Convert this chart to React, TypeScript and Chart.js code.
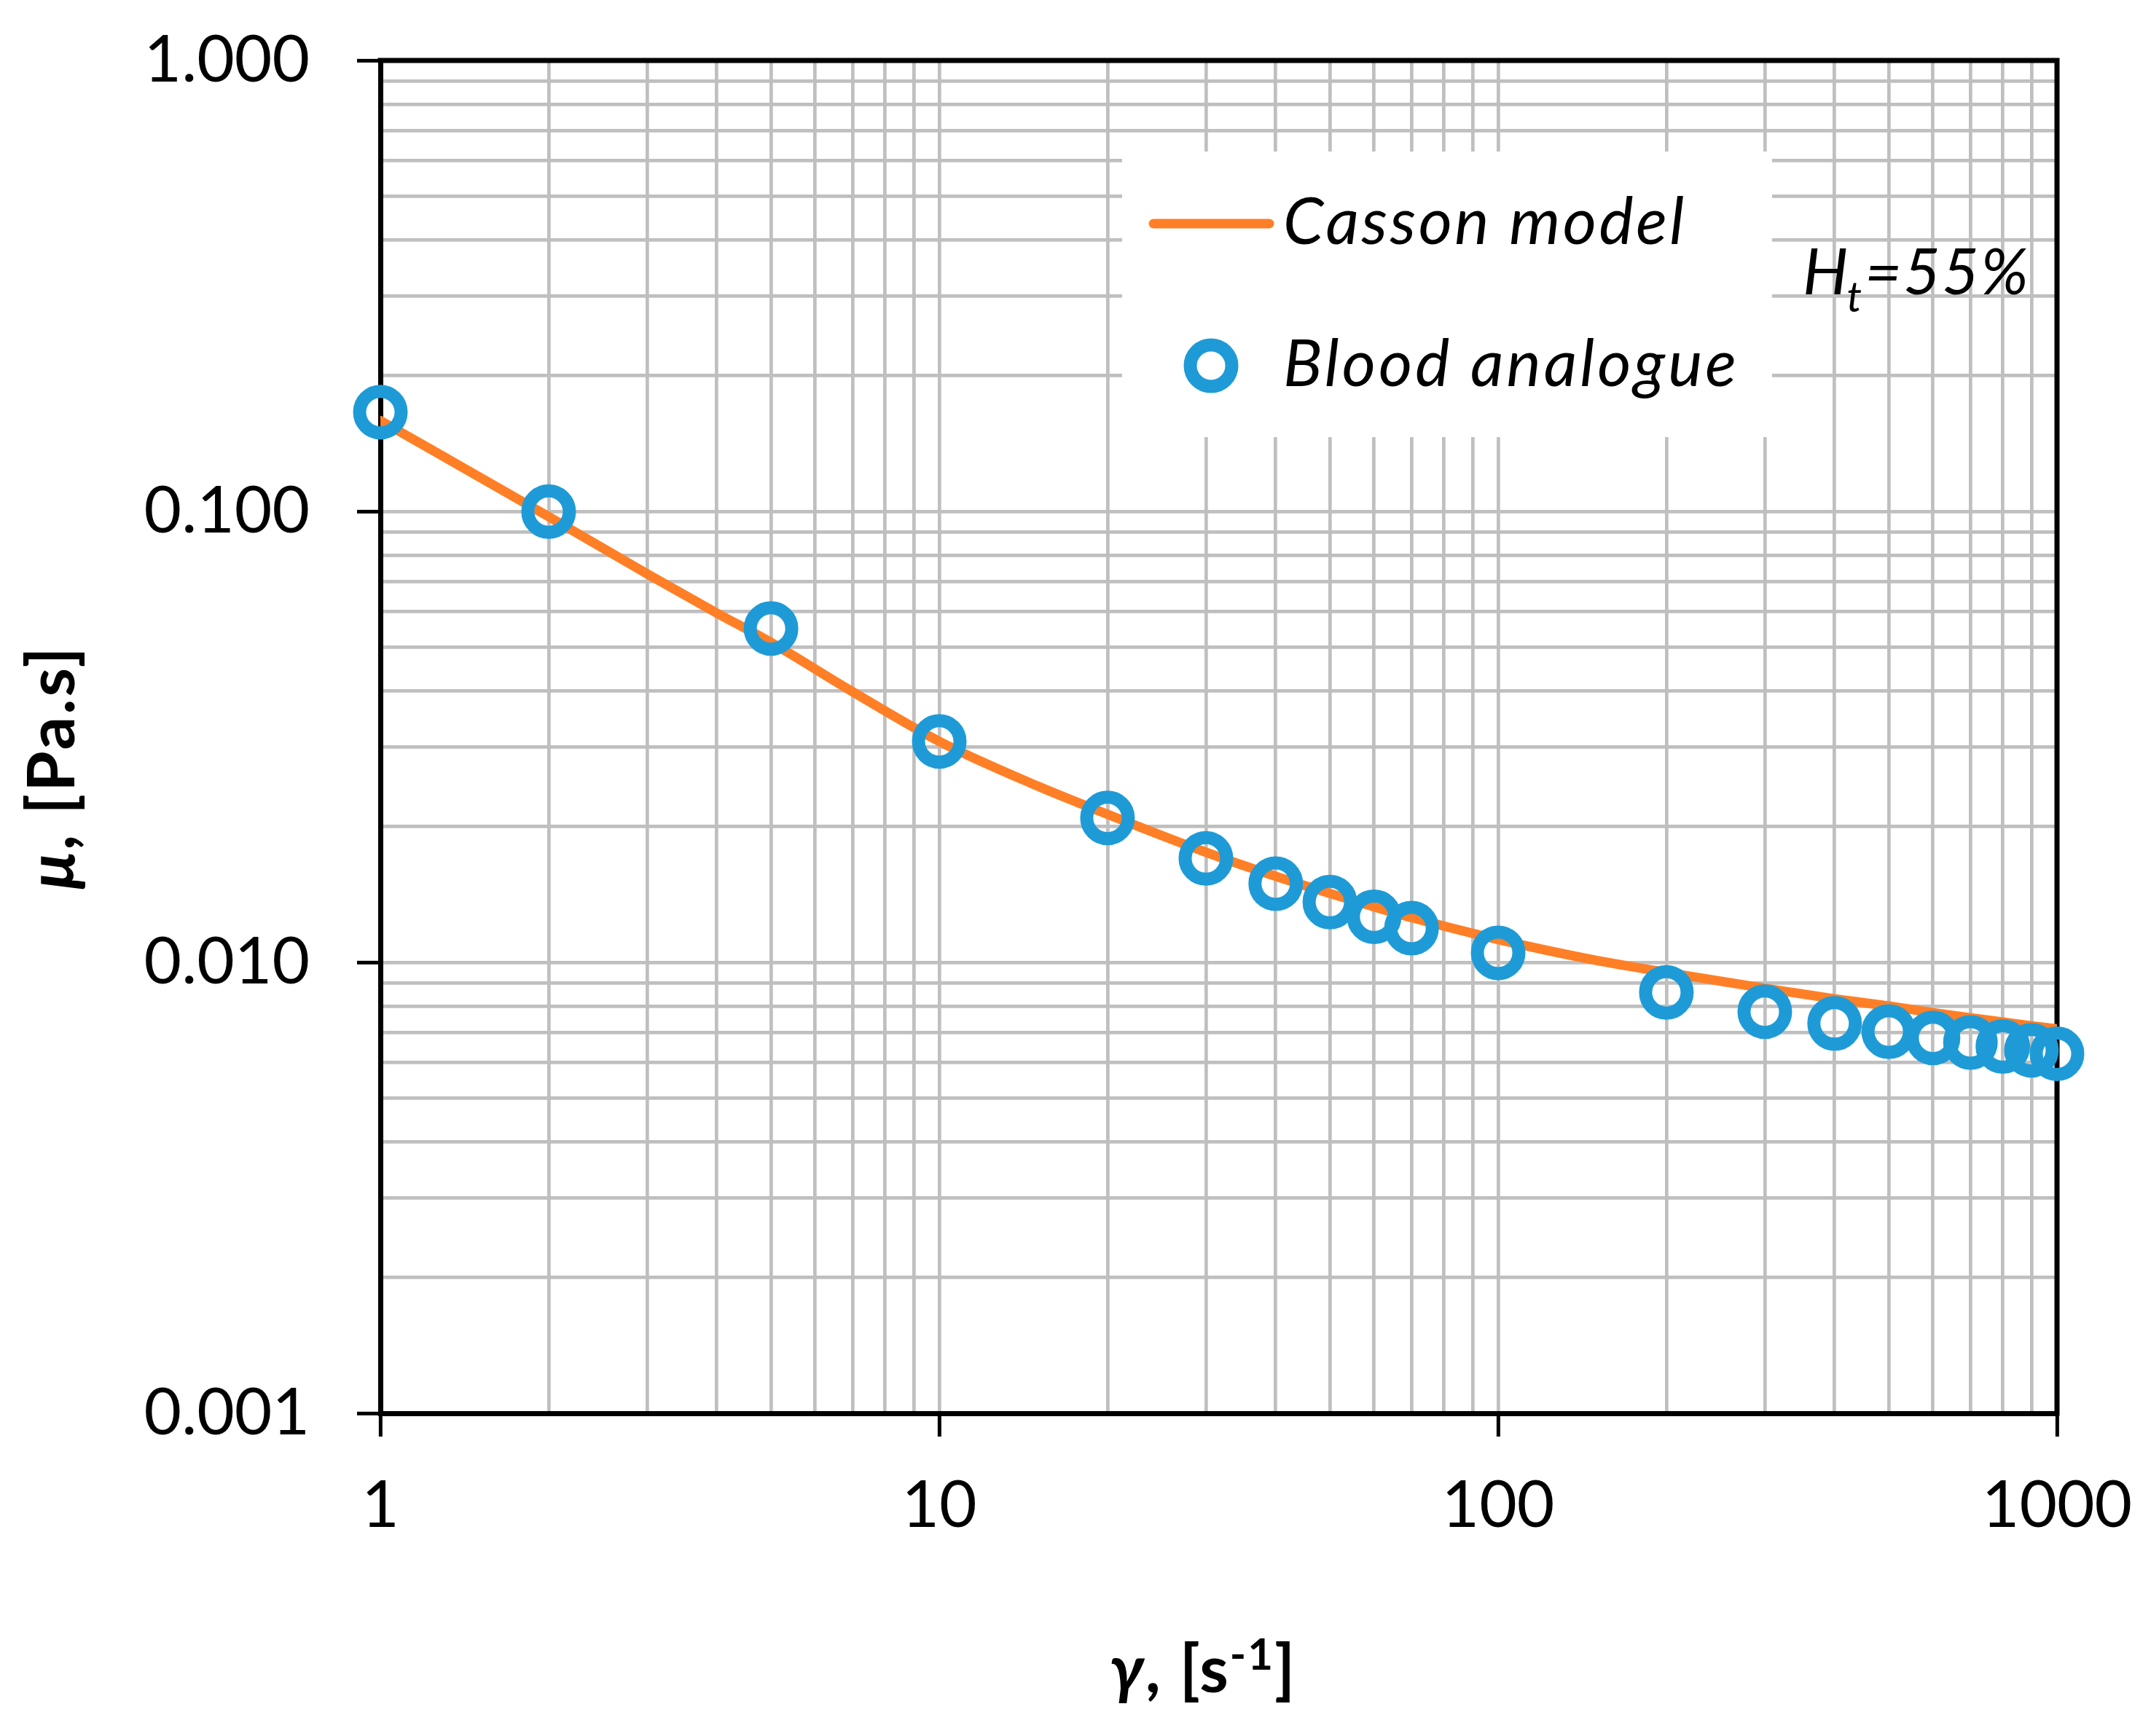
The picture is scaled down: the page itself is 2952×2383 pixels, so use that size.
import React, { useEffect, useRef } from "react";
import { Chart, registerables } from "chart.js";

Chart.register(...registerables);

// Blood analogue measurements (shear rate [1/s], viscosity [Pa.s])
const shearRates = [1, 2, 5, 10, 20, 30, 40, 50, 60, 70, 100, 200, 300, 400, 500, 600, 700, 800, 900, 1000];
const viscosities = [
  0.166, 0.0999, 0.055, 0.0309, 0.0209, 0.017, 0.01494, 0.0136, 0.01262, 0.01191,
  0.0105, 0.00858, 0.00777, 0.00732, 0.00702, 0.0068, 0.00664, 0.00651, 0.00638, 0.00627,
];

// Casson model curve
const cassonShearRates = [1, 2, 3, 4, 5, 7, 10, 15, 20, 30, 40, 50, 60, 70, 100, 150, 200, 300, 400, 500, 600, 700, 800, 900, 1000];
const cassonViscosities = [
  0.159, 0.0974, 0.0727, 0.0595, 0.0512, 0.0398, 0.0309, 0.0246, 0.0213, 0.01755, 0.01552, 0.01422,
  0.01328, 0.01257, 0.01124, 0.0101, 0.0095, 0.00876, 0.0083, 0.008, 0.00773, 0.00753, 0.00737, 0.00723, 0.00712,
];

const xTickValues = [1, 10, 100, 1000];
const xTickLabels = ["1", "10", "100", "1000"];
const yTickValues = [0.001, 0.01, 0.1, 1];
const yTickLabels = ["0.001", "0.010", "0.100", "1.000"];
const seriesNames = ["Casson model", "Blood analogue"];
const xTitle = ["γ", ", [s", "-1", "]"];
const yTitle = ["μ", ", [Pa.s]"];
const noteText = ["H", "t", "=55%"];

const W = 2952;
const H = 2383;
const AREA = { left: 522, top: 83, right: 2823, bottom: 1940 };
const FONT = 'Lato, "Open Sans", sans-serif';
const ORANGE = "#ff7f27";
const BLUE = "#1e9bd7";
const GRID = "#bfbfbf";

// gridlines at 1..9 x every decade
const decadeGrid = (majors: number[]) => {
  const out: number[] = [];
  majors.forEach((m, i) => {
    if (i === majors.length - 1) {
      out.push(m);
      return;
    }
    for (let k = 1; k < 10; k++) out.push(k === 1 ? m : parseFloat((m * k).toPrecision(6)));
  });
  return out;
};

const xGrid = decadeGrid(xTickValues);
const yGrid = decadeGrid(yTickValues);

type Run = { text: string; font: string; dy?: number };

const drawRuns = (ctx: CanvasRenderingContext2D, runs: Run[], cx: number, y: number) => {
  let total = 0;
  runs.forEach((r) => {
    ctx.font = r.font;
    total += ctx.measureText(r.text).width;
  });
  let x = cx - total / 2;
  runs.forEach((r) => {
    ctx.font = r.font;
    ctx.fillText(r.text, x, y + (r.dy || 0));
    x += ctx.measureText(r.text).width;
  });
};

const overlayPlugin = {
  id: "overlay",
  beforeDatasetsDraw(chart: any) {
    const { ctx, chartArea: a } = chart;
    ctx.save();
    // top and right frame
    ctx.strokeStyle = "#000";
    ctx.lineWidth = 7;
    ctx.beginPath();
    ctx.moveTo(a.left - 3.5, a.top);
    ctx.lineTo(a.right, a.top);
    ctx.lineTo(a.right, a.bottom + 3.5);
    ctx.stroke();

    // legend
    ctx.fillStyle = "#fff";
    ctx.fillRect(1540, 208, 892, 392);
    ctx.strokeStyle = ORANGE;
    ctx.lineWidth = 13;
    ctx.lineCap = "round";
    ctx.beginPath();
    ctx.moveTo(1583, 307);
    ctx.lineTo(1742, 307);
    ctx.stroke();
    ctx.strokeStyle = BLUE;
    ctx.lineWidth = 18;
    ctx.beginPath();
    ctx.arc(1662, 502, 28.5, 0, Math.PI * 2);
    ctx.stroke();
    ctx.fillStyle = "#000";
    ctx.textBaseline = "alphabetic";
    ctx.textAlign = "left";
    ctx.font = `italic 89px ${FONT}`;
    ctx.letterSpacing = "3.5px";
    ctx.fillText(seriesNames[0], 1761, 335);
    ctx.letterSpacing = "4px";
    ctx.fillText(seriesNames[1], 1761, 530);

    // H_t = 55% note
    ctx.letterSpacing = "2px";
    let x = 2474;
    ctx.font = `italic 88px ${FONT}`;
    ctx.fillText(noteText[0], x, 404);
    x += ctx.measureText(noteText[0]).width - 4;
    ctx.font = `italic 58px ${FONT}`;
    ctx.fillText(noteText[1], x, 428);
    x += ctx.measureText(noteText[1]).width + 2;
    ctx.font = `italic 88px ${FONT}`;
    ctx.fillText(noteText[2], x, 404);
    ctx.restore();
  },
  afterDraw(chart: any) {
    const { ctx } = chart;
    ctx.save();
    ctx.fillStyle = "#000";
    ctx.textBaseline = "alphabetic";
    ctx.textAlign = "left";
    ctx.letterSpacing = "2px";
    const b = `bold 90px ${FONT}`;
    const bi = `italic bold 90px ${FONT}`;
    drawRuns(
      ctx,
      [
        { text: xTitle[0], font: bi },
        { text: xTitle[1], font: b },
        { text: xTitle[2], font: `bold 60px ${FONT}`, dy: -31 },
        { text: xTitle[3], font: b },
      ],
      1651,
      2323
    );
    ctx.letterSpacing = "3px";
    ctx.translate(102, 1053);
    ctx.rotate(-Math.PI / 2);
    drawRuns(
      ctx,
      [
        { text: yTitle[0], font: bi },
        { text: yTitle[1], font: b },
      ],
      0,
      0
    );
    ctx.restore();
  },
};

const App: React.FC = () => {
  const canvasRef = useRef<HTMLCanvasElement | null>(null);
  const chartRef = useRef<Chart | null>(null);

  useEffect(() => {
    document.body.style.margin = "0";
    document.body.style.overflow = "hidden";
    if (chartRef.current) chartRef.current.destroy();
    if (!canvasRef.current) return;

    const tickFont = { family: FONT, size: 89 };

    chartRef.current = new Chart(canvasRef.current, {
      type: "scatter",
      data: {
        datasets: [
          {
            label: seriesNames[1],
            data: shearRates.map((x, i) => ({ x, y: viscosities[i] })),
            showLine: false,
            pointStyle: "circle",
            pointRadius: 28.5,
            pointBorderWidth: 18,
            pointBorderColor: BLUE,
            pointBackgroundColor: "rgba(0,0,0,0)",
            borderColor: BLUE,
            backgroundColor: "rgba(0,0,0,0)",
            clip: false,
            order: 1,
          },
          {
            label: seriesNames[0],
            data: cassonShearRates.map((x, i) => ({ x, y: cassonViscosities[i] })),
            showLine: true,
            pointRadius: 0,
            borderColor: ORANGE,
            borderWidth: 13,
            borderCapStyle: "round",
            cubicInterpolationMode: "monotone",
            order: 2,
          },
        ],
      },
      options: {
        animation: false,
        responsive: true,
        maintainAspectRatio: false,
        events: [],
        layout: { padding: { top: AREA.top, right: W - AREA.right, left: 0, bottom: 0 } },
        plugins: {
          legend: { display: false },
          tooltip: { enabled: false },
        },
        scales: {
          x: {
            type: "logarithmic",
            min: 1,
            max: 1000,
            afterBuildTicks: (scale: any) => {
              scale.ticks = xGrid.map((v) => ({ value: v }));
            },
            afterFit: (scale: any) => {
              scale.height = H - AREA.bottom;
              scale.paddingLeft = 0;
              scale.paddingRight = 0;
            },
            ticks: {
              autoSkip: false,
              maxRotation: 0,
              minRotation: 0,
              padding: 42,
              color: "#000",
              font: tickFont,
              callback: (value: any) => {
                const i = xTickValues.indexOf(Number(value));
                return i >= 0 ? xTickLabels[i] : "";
              },
            },
            grid: {
              color: GRID,
              lineWidth: 4.7,
              tickLength: 32,
              tickWidth: 5,
              tickColor: (c: any) =>
                xTickValues.includes(c.tick?.value) ? "#000" : "rgba(0,0,0,0)",
            },
            border: { color: "#000", width: 7 },
          },
          y: {
            type: "logarithmic",
            min: 0.001,
            max: 1,
            afterBuildTicks: (scale: any) => {
              scale.ticks = yGrid.map((v) => ({ value: v }));
            },
            afterFit: (scale: any) => {
              scale.width = AREA.left;
              scale.paddingTop = 0;
              scale.paddingBottom = 0;
            },
            ticks: {
              autoSkip: false,
              padding: 65,
              color: "#000",
              font: tickFont,
              callback: (value: any) => {
                const i = yTickValues.indexOf(Number(value));
                return i >= 0 ? yTickLabels[i] : "";
              },
            },
            grid: {
              color: GRID,
              lineWidth: 4.7,
              tickLength: 32,
              tickWidth: 5,
              tickColor: (c: any) =>
                yTickValues.includes(c.tick?.value) ? "#000" : "rgba(0,0,0,0)",
            },
            border: { color: "#000", width: 7 },
          },
        },
      },
      plugins: [overlayPlugin],
    } as any);

    return () => {
      if (chartRef.current) {
        chartRef.current.destroy();
        chartRef.current = null;
      }
    };
  }, []);

  return (
    <div style={{ width: W, height: H, position: "relative", background: "#fff" }}>
      <canvas ref={canvasRef}></canvas>
    </div>
  );
};

export default App;
